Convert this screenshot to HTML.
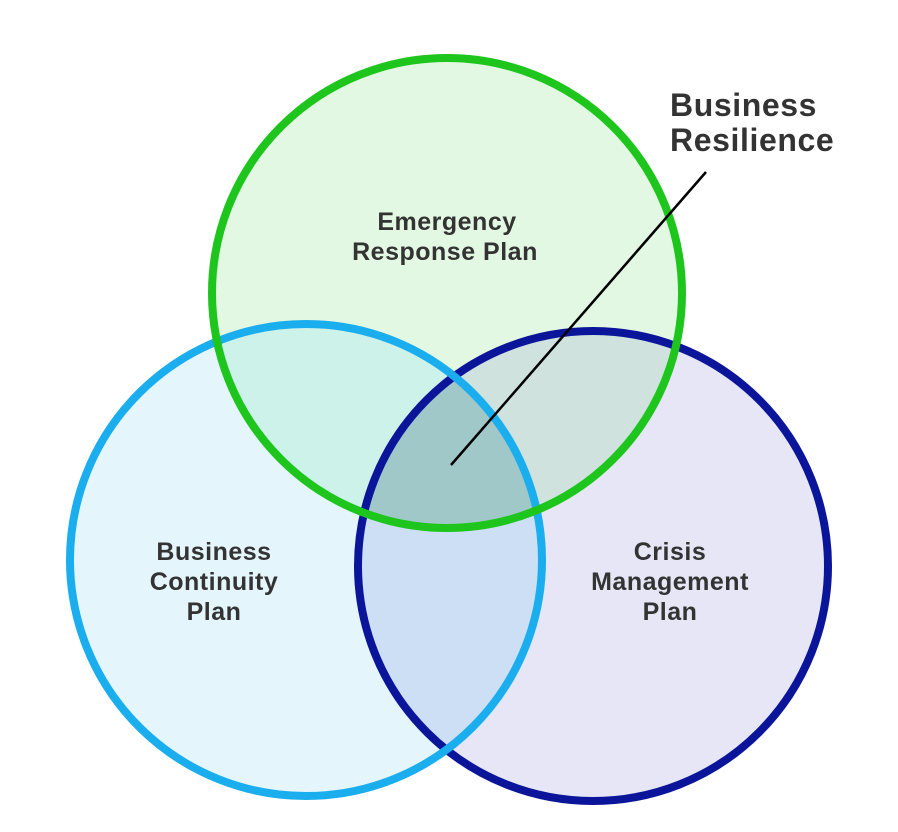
<!DOCTYPE html>
<html><head><meta charset="utf-8"><style>
html,body{margin:0;padding:0;background:#fff;}
svg{display:block;}
text{font-family:"Liberation Sans",sans-serif;font-weight:bold;fill:#333;}
</style></head><body>
<svg width="898" height="832" viewBox="0 0 898 832">
<defs>
<clipPath id="cg"><circle cx="447" cy="293" r="235"/></clipPath>
<clipPath id="cb"><circle cx="306" cy="560" r="236"/></clipPath>
<clipPath id="cn"><circle cx="593" cy="566" r="235"/></clipPath>
</defs>
<circle cx="447" cy="293" r="235" fill="#e3f8e3"/>
<circle cx="306" cy="560" r="236" fill="#e4f6fc"/>
<circle cx="593" cy="566" r="235" fill="#e6e6f6"/>
<g clip-path="url(#cg)"><circle cx="306" cy="560" r="236" fill="#cdf2ea"/><circle cx="593" cy="566" r="235" fill="#cfe2de"/></g>
<g clip-path="url(#cb)"><circle cx="593" cy="566" r="235" fill="#ccdff5"/></g>
<g clip-path="url(#cg)"><g clip-path="url(#cb)"><circle cx="593" cy="566" r="235" fill="#a0c8c9"/></g></g>
<circle cx="593" cy="566" r="235" fill="none" stroke="#0b159a" stroke-width="8"/>
<circle cx="306" cy="560" r="236" fill="none" stroke="#1aaeee" stroke-width="8"/>
<circle cx="447" cy="293" r="235" fill="none" stroke="#1dc51d" stroke-width="8"/>
<line x1="706" y1="172" x2="451" y2="465" stroke="#000" stroke-width="2.5"/>
<text x="670" y="116" font-size="32" letter-spacing="0.6">Business</text>
<text x="670" y="151" font-size="32" letter-spacing="0.6">Resilience</text>
<g font-size="25" text-anchor="middle" letter-spacing="0.5">
<text x="447" y="230">Emergency</text>
<text x="445" y="260">Response Plan</text>
<text x="214" y="560">Business</text>
<text x="214" y="590">Continuity</text>
<text x="214" y="620">Plan</text>
<text x="670" y="560">Crisis</text>
<text x="670" y="590">Management</text>
<text x="670" y="620">Plan</text>
</g>
</svg>
</body></html>
